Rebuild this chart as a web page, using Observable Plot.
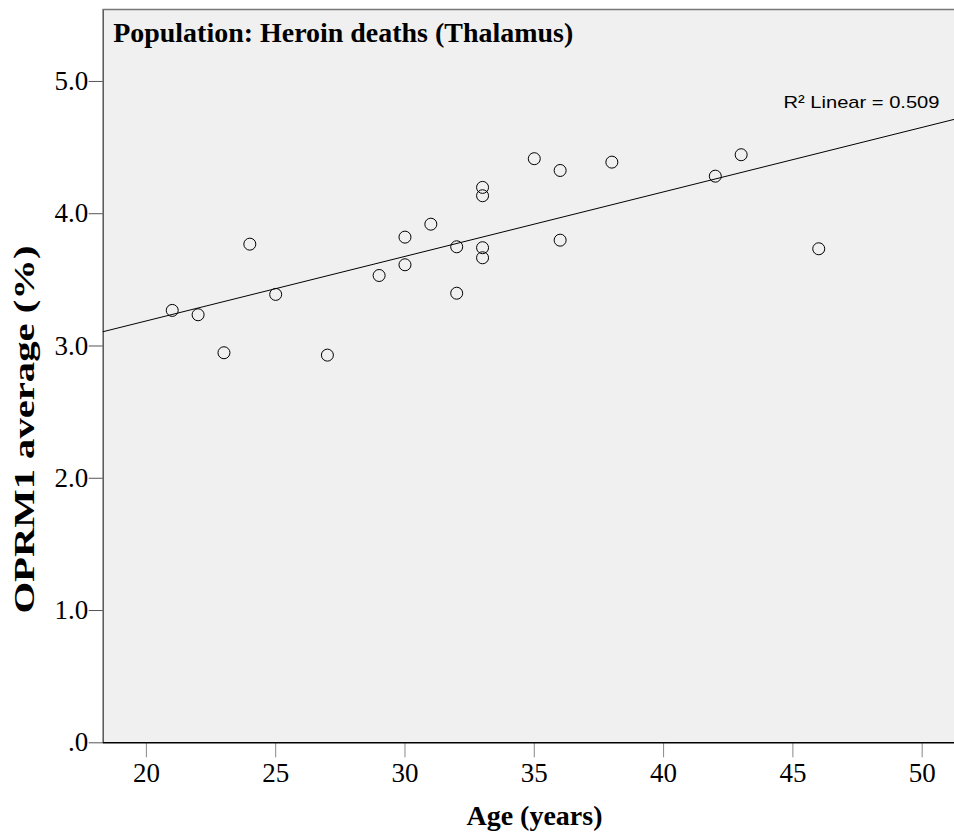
<!DOCTYPE html>
<html><head><meta charset="utf-8">
<script src="https://cdn.jsdelivr.net/npm/d3@7"></script>
<script src="https://cdn.jsdelivr.net/npm/@observablehq/plot@0.6"></script>
<style>body{margin:0;background:#fff}</style>
</head><body><div id="chart"></div>
<script>
const ages = [21,22,23,24,25,27,29,30,30,31,32,32,33,33,33,33,35,36,36,38,42,43,46];
const oprm1 = [3.269,3.236,2.949,3.770,3.390,2.931,3.533,3.823,3.614,3.921,3.750,3.399,4.199,4.136,3.743,3.667,4.416,4.327,3.800,4.390,4.284,4.446,3.735];
const xTicks = [20,25,30,35,40,45,50];
const yTicks = [0,1,2,3,4,5];
const yTickLabels = [".0","1.0","2.0","3.0","4.0","5.0"];
const title = "Population: Heroin deaths (Thalamus)";
const xLabel = "Age (years)";
const yLabel = "OPRM1 average (%)";
const xDomain = [18.33, 51.25];
const yDomain = [0, 5.544];

const data = ages.map((a,i)=>({age:a, v:oprm1[i]}));
const mx = d3.mean(ages), my = d3.mean(oprm1);
const sxy = d3.sum(data, d=>(d.age-mx)*(d.v-my));
const sxx = d3.sum(ages, a=>(a-mx)**2);
const syy = d3.sum(oprm1, v=>(v-my)**2);
const slope = sxy/sxx, intercept = my - slope*mx;
const r2 = sxy*sxy/(sxx*syy);
const fit = xDomain.map(x=>({age:x, v:intercept+slope*x}));

const serif = "'Liberation Serif','Times New Roman',serif";
const chart = Plot.plot({
  width:954, height:834,
  marginTop:9, marginRight:0, marginBottom:91.7, marginLeft:102.7,
  style:{fontFamily:serif, fontSize:"27px", background:"#fff", color:"#000", overflow:"visible"},
  x:{domain:xDomain},
  y:{domain:yDomain},
  marks:[
    Plot.frame({fill:"#f0f0f0", stroke:null}),
    Plot.ruleX([xDomain[0]], {stroke:"#555", strokeWidth:1.5}),
    Plot.ruleY([yDomain[1]], {stroke:"#777", strokeWidth:1.5}),
    Plot.axisX({ticks:xTicks, tickSize:15, tickPadding:5, stroke:"#888", fill:"#000", tickFormat:d=>String(d), label:null, fontSize:27}),
    Plot.axisY({ticks:yTicks, tickSize:14, tickPadding:1, stroke:"#555", fill:"#000", tickFormat:d=>yTickLabels[yTicks.indexOf(d)], label:null, fontSize:27}),
    Plot.line(fit, {x:"age", y:"v", stroke:"#000", strokeWidth:1}),
    Plot.dot(data, {x:"age", y:"v", r:6, stroke:"#000", strokeWidth:1, fill:"none"}),
    Plot.ruleY([0], {stroke:"#000", strokeWidth:1.5}),
    Plot.text([title], {text:d=>d, frameAnchor:"top-left", dx:10, dy:24, textAnchor:"start", lineAnchor:"middle", fontWeight:"bold", fontSize:28, className:"title-t"}),
    Plot.text([`R² Linear = ${r2.toFixed(3)}`], {text:d=>d, frameAnchor:"top-right", dx:-171, dy:93, textAnchor:"start", lineAnchor:"middle", fontFamily:"'Liberation Sans',Arial,sans-serif", fontSize:17, className:"r2-t"}),
    Plot.text([xLabel], {text:d=>d, frameAnchor:"bottom", dx:5.6, dy:73, lineAnchor:"middle", fontWeight:"bold", fontSize:28}),
    Plot.text([yLabel], {text:d=>d, frameAnchor:"left", rotate:-90, dx:-78.7, dy:237.4, textAnchor:"start", lineAnchor:"middle", fontWeight:"bold", fontSize:29, className:"ylab-t"})
  ]
});
document.getElementById("chart").appendChild(chart);
d3.select(chart).selectAll(".title-t text").attr("textLength",460).attr("lengthAdjust","spacingAndGlyphs");
d3.select(chart).selectAll(".ylab-t text").attr("textLength",368).attr("lengthAdjust","spacingAndGlyphs");
d3.select(chart).selectAll(".r2-t text").attr("textLength",156).attr("lengthAdjust","spacingAndGlyphs");
</script>
</body></html>
